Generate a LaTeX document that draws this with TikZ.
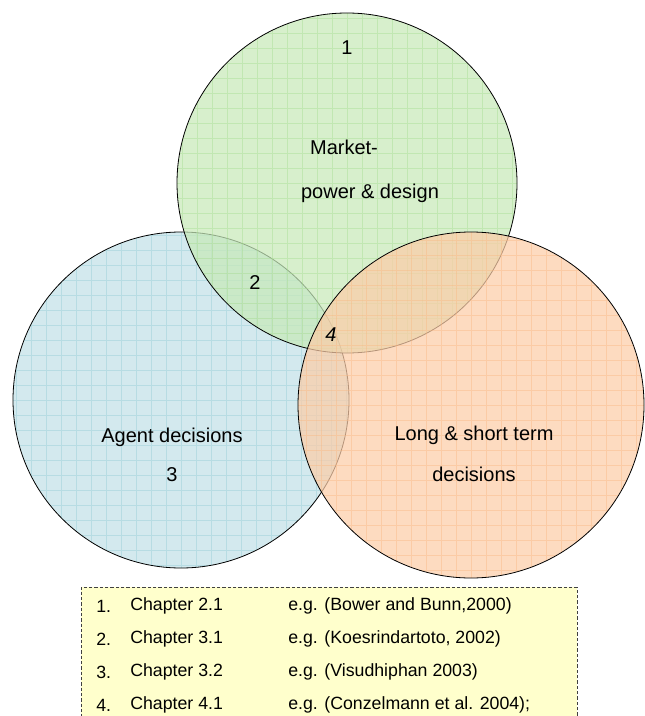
\documentclass[tikz,border=0pt]{standalone}
\usepackage{fontspec}
\setmainfont{Liberation Sans}
\definecolor{bluefill}{HTML}{C2E1E7}
\definecolor{bluegrid}{HTML}{8FCAD3}
\definecolor{greenfill}{HTML}{C7E9B9}
\definecolor{greengrid}{HTML}{A3DB8A}
\definecolor{orangefill}{HTML}{FCCDA8}
\definecolor{orangegrid}{HTML}{F9B57E}
\definecolor{legendfill}{HTML}{FFFFCC}
\begin{document}
\begin{tikzpicture}[x=0.75pt,y=-0.75pt,
  venn/.style={circle, inner sep=0pt, outer sep=0pt, fill opacity=0.72, draw=black, draw opacity=1, line width=0.6pt},
  gridin/.style={line width=0.5pt, draw opacity=0.4},
  lbl/.style={inner sep=0pt, font=\fontsize{15}{18}\selectfont},
  leg/.style={anchor=west, inner sep=0pt, font=\fontsize{13.3}{16}\selectfont}]
\useasboundingbox (0,0) rectangle (644,716);
% circles
\node[venn, fill=bluefill, minimum size=252pt,
  path picture={\draw[gridin, bluegrid] (path picture bounding box.south west) grid[step=11.25pt] (path picture bounding box.north east);}]
  (blue) at (181,400) {};
\node[venn, fill=greenfill, minimum size=255pt,
  path picture={\draw[gridin, greengrid] (path picture bounding box.south west) grid[step=11.25pt] (path picture bounding box.north east);}]
  (green) at (347,183) {};
\node[venn, fill=orangefill, minimum size=259.5pt,
  path picture={\draw[gridin, orangegrid] (path picture bounding box.south west) grid[step=11.25pt] (path picture bounding box.north east);}]
  (orange) at (471,405) {};
% labels
\node[lbl] (n1) at (347,48) {1};
\node[lbl] (market) at (344,147) {Market-};
\node[lbl] (power) at (370,193) {power \& design};
\node[lbl] (n2) at (255,283) {2};
\node[lbl] (n4) at (331,335) {\itshape 4};
\node[lbl] (agent) at (172,437) {Agent decisions};
\node[lbl] (n3) at (172,475) {3};
\node[lbl] (long) at (474,435) {Long \& short term};
\node[lbl] (dec) at (474,474) {decisions};
% legend
\node[draw=black!75, dash pattern=on 2.5pt off 1.5pt, line width=0.6pt, fill=legendfill, inner sep=0pt, outer sep=0pt,
  minimum width=372pt, minimum height=112.5pt, anchor=north west] (legend) at (81,587) {};
\node[leg] (l1a) at (96,606) {1.};
\node[leg] (l1b) at (130,606) {Chapter 2.1};
\node[leg] (l1c) at (288,606) {e.g. (Bower and Bunn,2000)};
\node[leg] (l2a) at (96,639) {2.};
\node[leg] (l2b) at (130,639) {Chapter 3.1};
\node[leg] (l2c) at (288,639) {e.g. (Koesrindartoto, 2002)};
\node[leg] (l3a) at (96,672) {3.};
\node[leg] (l3b) at (130,672) {Chapter 3.2};
\node[leg] (l3c) at (288,672) {e.g. (Visudhiphan 2003)};
\node[leg] (l4a) at (96,705) {4.};
\node[leg] (l4b) at (130,705) {Chapter 4.1};
\node[leg] (l4c) at (288,705) {e.g. (Conzelmann et al. 2004);};
\end{tikzpicture}
\end{document}
